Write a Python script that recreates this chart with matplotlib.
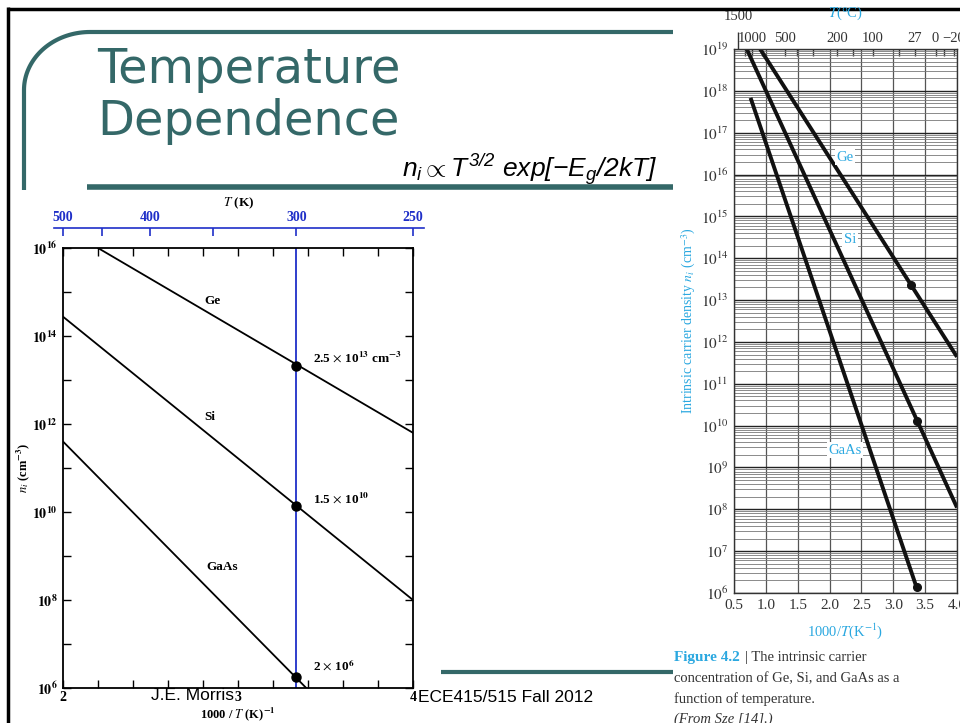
import matplotlib
matplotlib.use("Agg")
import matplotlib.pyplot as plt
import numpy as np
from matplotlib.ticker import FixedLocator, NullFormatter

# ---- data ----
materials = ["Ge", "Si", "GaAs"]

# left figure: 1000/T (1/K) end points and n_i (cm^-3)
leftInvT = [[2.2, 4.0], [2.0, 4.0], [2.0, 3.39]]
leftNi = [[1.0e16, 6.3e11], [2.75e14, 1.0e8], [4.0e11, 1.0e6]]
leftDotNi = [2.1e13, 1.4e10, 1.8e6]
roomInvT = 1000 / 300
leftNotes = [
    r"2.5 $\times$ 10$^{\mathbf{13}}$ cm$^{\mathbf{-3}}$",
    r"1.5 $\times$ 10$^{\mathbf{10}}$",
    r"2 $\times$ 10$^{\mathbf{6}}$",
]
leftTempsMajor = [500, 400, 300, 250]
leftTempsMinor = [450, 350]

# right figure (Sze): 1000/T end points and n_i
rightInvT = [[0.91, 4.0], [0.70, 4.0], [0.76, 3.37]]
rightNi = [[1.0e19, 4.4e11], [1.0e19, 1.1e8], [6.8e17, 1.3e6]]
rightDotInvT = [3.28, 3.37, 3.37]
rightDotNi = [2.3e13, 1.3e10, 1.4e6]
rightTempsC = [1000, 500, 200, 100, 27, 0, -20]
rightTempsCMinor = [1200, 800, 400, 300, 150, 50, -10]

# ---- style ----
W, H = 960, 723
teal = "#346868"
blue = "#1f2fc8"
lightBlue = "#2ba8e0"
serif = "Liberation Serif"

plt.rcParams["mathtext.fontset"] = "stix"
plt.rcParams["mathtext.it"] = "Liberation Sans:italic"
plt.rcParams["mathtext.rm"] = "Liberation Sans:italic"
plt.rcParams["mathtext.bf"] = "Liberation Sans:bold"


def box(x0, y0, x1, y1):
    return [x0 / W, 1 - y1 / H, (x1 - x0) / W, (y1 - y0) / H]


def k2c(x):
    x = np.asarray(x, dtype=float)
    with np.errstate(divide="ignore"):
        return 1000.0 / x - 273.0


def c2k(c):
    c = np.asarray(c, dtype=float)
    with np.errstate(divide="ignore"):
        return 1000.0 / (c + 273.0)


fig = plt.figure(figsize=(W / 100, H / 100), dpi=100)

# ---- left chart ----
ax1 = fig.add_axes(box(63, 248, 413, 688))
ax1.set_yscale("log")
ax1.set_xlim(2, 4)
ax1.set_ylim(1e6, 1e16)
for xs, ys in zip(leftInvT, leftNi):
    ax1.plot(xs, ys, color="black", lw=1.3)
ax1.axvline(roomInvT, color=blue, lw=1.3)
ax1.plot([roomInvT] * 3, leftDotNi, "o", color="black", ms=6.5, zorder=5)

ax1.set_yticks([10.0**e for e in range(6, 17, 2)])
ax1.set_yticklabels([r"$\mathbf{10^{%d}}$" % e for e in range(6, 17, 2)])
ax1.yaxis.set_minor_locator(FixedLocator([10.0**e for e in range(7, 16, 2)]))
ax1.yaxis.set_minor_formatter(NullFormatter())
ax1.set_xticks([2, 3, 4])
ax1.set_xticklabels(["2", "3", "4"])
ax1.xaxis.set_minor_locator(FixedLocator([2.2, 2.4, 2.6, 2.8, 3.2, 3.4, 3.6, 3.8]))
ax1.tick_params(which="both", direction="in", top=True, right=True, length=6, width=1)
ax1.tick_params(axis="y", pad=4)
ax1.tick_params(axis="x", pad=2)
for lbl in ax1.get_xticklabels() + ax1.get_yticklabels():
    lbl.set_fontfamily(serif)
    lbl.set_fontweight("bold")
    lbl.set_fontsize(10)
for sp in ax1.spines.values():
    sp.set_linewidth(1.3)

ax1.set_xlabel(r"1000 / $\mathit{T}$ (K)$^{\mathbf{-1}}$", family=serif,
               fontweight="bold", fontsize=9, labelpad=1)
ax1.set_ylabel(r"$\mathit{n_i}$ (cm$^{\mathbf{-3}}$)", family=serif,
               fontweight="bold", fontsize=9, labelpad=0)

ax1.text(2.857, 6.3e14, "Ge", family=serif, fontweight="bold", fontsize=9.5,
         ha="center", va="center")
ax1.text(2.84, 1.45e12, "Si", family=serif, fontweight="bold", fontsize=9.5,
         ha="center", va="center")
ax1.text(2.91, 5.6e8, "GaAs", family=serif, fontweight="bold", fontsize=9.5,
         ha="center", va="center")
for note, y in zip(leftNotes, [3.3e13, 2.0e10, 3.2e6]):
    ax1.text(3.43, y, note, family=serif, fontweight="bold", fontsize=9.5,
             ha="left", va="center")

# top temperature scale of the left chart
axT = fig.add_axes(box(54, 228, 424, 240))
axT.set_xlim(2 - 9 / 175, 4 + 11 / 175)
axT.set_ylim(0, 1)
axT.patch.set_visible(False)
for name, sp in axT.spines.items():
    sp.set_visible(name == "top")
axT.spines["top"].set_color(blue)
axT.spines["top"].set_linewidth(1.2)
axT.set_yticks([])
axT.xaxis.tick_top()
axT.set_xticks([1000 / t for t in leftTempsMajor])
axT.set_xticklabels([str(t) for t in leftTempsMajor])
axT.xaxis.set_minor_locator(FixedLocator([1000 / t for t in leftTempsMinor]))
axT.tick_params(which="both", direction="in", length=6, width=1.2, color=blue,
                labelcolor=blue, pad=3)
for lbl in axT.get_xticklabels():
    lbl.set_fontfamily(serif)
    lbl.set_fontweight("bold")
    lbl.set_fontsize(10)
axT.xaxis.set_label_position("top")
axT.set_xlabel(r"$\mathit{T}$ (K)", family=serif, fontweight="bold", fontsize=9.5,
               labelpad=3)

# ---- right chart ----
ax2 = fig.add_axes(box(734, 49, 957, 593))
ax2.set_yscale("log")
ax2.set_xlim(0.5, 4.0)
ax2.set_ylim(1e6, 1e19)
ax2.set_xticks([0.5, 1.0, 1.5, 2.0, 2.5, 3.0, 3.5, 4.0])
ax2.set_xticklabels(["%.1f" % v for v in ax2.get_xticks()])
ax2.set_yticks([10.0**e for e in range(6, 20)])
ax2.set_yticklabels([r"$\mathrm{10}^{%d}$" % e for e in range(6, 20)])
ax2.yaxis.set_minor_locator(
    FixedLocator([m * 10.0**e for e in range(6, 19) for m in range(2, 10)]))
ax2.yaxis.set_minor_formatter(NullFormatter())
ax2.grid(True, which="major", axis="x", color="#555555", lw=0.9)
ax2.grid(True, which="major", axis="y", color="#222222", lw=1.0)
ax2.grid(True, which="minor", axis="y", color="#777777", lw=0.6)
ax2.tick_params(which="both", length=0, labelsize=11, labelcolor="#333333", pad=4)
for lbl in ax2.get_xticklabels() + ax2.get_yticklabels():
    lbl.set_fontfamily(serif)
    lbl.set_math_fontfamily("stix")
for sp in ax2.spines.values():
    sp.set_color("#333333")
    sp.set_linewidth(1.0)

for xs, ys in zip(rightInvT, rightNi):
    ax2.plot(xs, ys, color="#111111", lw=2.8, solid_capstyle="butt")
ax2.plot(rightDotInvT, rightDotNi, "o", color="#111111", ms=5.5, zorder=5)

for name, x, y in zip(materials, [2.24, 2.32, 2.24], [2.6e16, 2.8e14, 2.6e9]):
    ax2.text(x, y, name, family=serif, fontsize=10.5, color=lightBlue,
             ha="center", va="center",
             bbox=dict(facecolor="white", edgecolor="none", pad=1))

ax2.set_xlabel(r"1000/$\mathit{T}$(K$^{-1}$)", family=serif, fontsize=10.5,
               color=lightBlue, labelpad=7)
ax2.set_ylabel(r"Intrinsic carrier density $\mathit{n_i}$ (cm$^{-3}$)",
               family=serif, fontsize=10, color=lightBlue, labelpad=2)

secC = ax2.secondary_xaxis("top", functions=(k2c, c2k))
secC.set_xticks(rightTempsC)
secC.set_xticklabels(["1000", "500", "200", "100", "27", "0", "\u221220"])
secC.xaxis.set_minor_locator(FixedLocator(rightTempsCMinor))
secC.tick_params(which="both", direction="in", length=5, width=1, color="#333333",
                 labelsize=10.5, labelcolor="#333333", pad=3)
secC.spines["top"].set_visible(False)
for lbl in secC.get_xticklabels():
    lbl.set_fontfamily(serif)

sec1500 = ax2.secondary_xaxis("top", functions=(k2c, c2k))
sec1500.set_xticks([1500])
sec1500.set_xticklabels(["1500"])
sec1500.tick_params(direction="out", length=12, width=1, color="#333333",
                    labelsize=10.5, labelcolor="#333333", pad=7)
sec1500.spines["top"].set_visible(False)
for lbl in sec1500.get_xticklabels():
    lbl.set_fontfamily(serif)

# ---- slide decoration and text ----
ov = fig.add_axes([0, 0, 1, 1], zorder=10)
ov.set_xlim(0, W)
ov.set_ylim(H, 0)
ov.axis("off")
ov.patch.set_visible(False)

theta = np.linspace(np.pi, 1.5 * np.pi, 40)
arcX = 90 + 66 * np.cos(theta)
arcY = 90 + 58 * np.sin(theta)
ov.plot(np.r_[24, arcX, 673], np.r_[190, arcY, 32], color=teal, lw=3,
        solid_capstyle="butt")
ov.plot([87, 673], [187, 187], color=teal, lw=4, solid_capstyle="butt")
ov.plot([441, 673], [672, 672], color=teal, lw=3, solid_capstyle="butt")
ov.plot([8, W], [8.5, 8.5], color="black", lw=2.5, solid_capstyle="butt")
ov.plot([8, 8], [7, H], color="black", lw=2.5, solid_capstyle="butt")

ov.text(97, 83, "Temperature", family="DejaVu Sans", fontsize=34.5, color=teal,
        va="baseline", ha="left")
ov.text(97, 135, "Dependence", family="DejaVu Sans", fontsize=34.5, color=teal,
        va="baseline", ha="left")
ov.text(402, 177, r"$n_i \propto T^{3/2}\ exp[-E_g/2kT]$", fontsize=19,
        math_fontfamily="custom", va="baseline", ha="left")

ov.text(845, 13, r"$\mathit{T}$(°C)", family=serif, fontsize=10.5, color=lightBlue,
        ha="center", va="center", math_fontfamily="stix")

ov.text(674, 658, "Figure 4.2", family=serif, fontweight="bold", fontsize=11,
        color=lightBlue, va="center", ha="left")
ov.text(745, 658, "| The intrinsic carrier", family=serif, fontsize=10.5,
        color="#333333", va="center", ha="left")
ov.text(674, 679, "concentration of Ge, Si, and GaAs as a", family=serif,
        fontsize=10.5, color="#333333", va="center", ha="left")
ov.text(674, 699, "function of temperature.", family=serif, fontsize=10.5,
        color="#333333", va="center", ha="left")
ov.text(674, 719, "(From Sze [14].)", family=serif, fontsize=10.5, style="italic",
        color="#333333", va="center", ha="left")

ov.text(151, 696, "J.E. Morris", family="Liberation Sans", fontsize=12.5,
        color="black", va="center", ha="left")
ov.text(418, 697, "ECE415/515 Fall 2012", family="Liberation Sans", fontsize=12.5,
        color="black", va="center", ha="left")

fig.savefig("out.png", dpi=100)
